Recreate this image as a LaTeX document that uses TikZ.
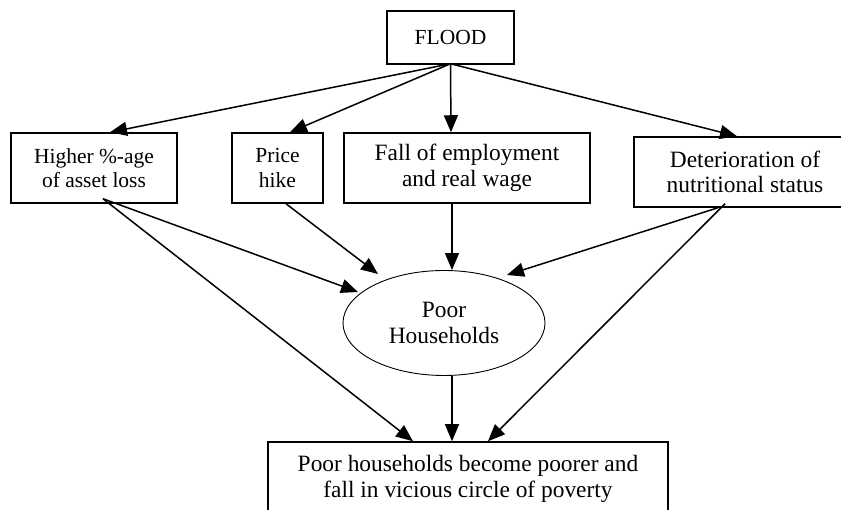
\documentclass[tikz,border=0pt]{standalone}
\usepackage{fontspec}
\setmainfont{Liberation Serif}
\usetikzlibrary{arrows.meta,shapes.geometric}
\begin{document}
\begin{tikzpicture}[x=1pt,y=1pt,
  box/.style={draw,line width=1.5pt,rectangle,align=center,inner sep=0pt,
    font=\fontsize{23.4}{25.5}\selectfont},
  smallbox/.style={box,font=\fontsize{21.5}{24.5}\selectfont},
  oval/.style={draw,line width=0.9pt,ellipse,align=center,inner sep=0pt,
    font=\fontsize{23.4}{26}\selectfont},
  arr/.style={line width=1.5pt,-{Triangle[length=17pt,width=14pt]}}]
\useasboundingbox (0,0) rectangle (841,510);
\begin{scope}
\clip (0,0) rectangle (841,510);
\node[smallbox,minimum width=127pt,minimum height=53pt] (flood) at (450.5,472.5) {FLOOD};
\node[smallbox,minimum width=166pt,minimum height=70pt] (higher) at (94,342) {Higher \%-age\\of asset loss};
\node[smallbox,minimum width=91pt,minimum height=70pt] (price) at (277.5,342) {Price\\hike};
\node[box,minimum width=246pt,minimum height=70pt] (fall) at (467,342) {Fall of employment\\and real wage};
\node[box,minimum width=222pt,minimum height=70pt] (det) at (745,338) {Deterioration of\\nutritional status};
\node[oval,minimum width=202pt,minimum height=105pt] (ell) at (444,187) {Poor\\Households};
\node[box,minimum width=400pt,minimum height=74pt] (bot) at (468,31) {Poor households become poorer and\\fall in vicious circle of poverty};

\coordinate (fs) at ([yshift=1pt]flood.south);
\draw[arr] (fs) -- ([xshift=16pt]higher.north);
\draw[arr] (fs) -- ([xshift=12.5pt]price.north);
\draw[arr] (fs) -- ([xshift=-16pt]fall.north);
\draw[arr] (fs) -- ([xshift=-8pt]det.north);

\coordinate (hs) at ([xshift=9pt,yshift=5pt]higher.south);
\coordinate (ds1) at ([xshift=-27pt]det.south);
\coordinate (ds2) at ([xshift=-20pt,yshift=4pt]det.south);
\coordinate (e1) at ([xshift=-86pt,yshift=31pt]ell.center);
\coordinate (e2) at ([xshift=-66pt,yshift=49pt]ell.center);
\coordinate (e3) at ([xshift=63pt,yshift=48pt]ell.center);

\draw[arr] (hs) -- (e1);
\draw[arr] ([xshift=8.5pt]price.south) -- (e2);
\draw[arr] ([xshift=-15pt]fall.south) -- ([xshift=8pt]ell.north);
\draw[arr] (ds1) -- (e3);

\draw[arr] (hs) -- ([xshift=-55pt]bot.north);
\draw[arr] ([xshift=8pt]ell.south) -- ([xshift=-16pt]bot.north);
\draw[arr] (ds2) -- ([xshift=20pt]bot.north);
\end{scope}
\end{tikzpicture}
\end{document}
